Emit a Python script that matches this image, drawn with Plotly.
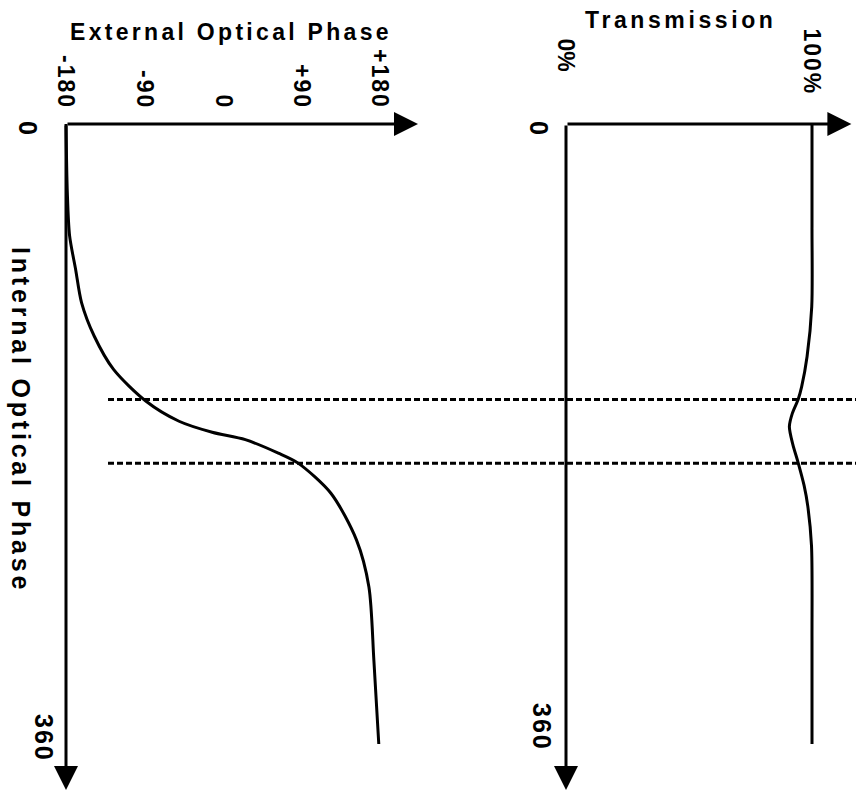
import plotly.graph_objects as go

# ---------------- data ----------------
# left panel: external optical phase (deg) vs internal optical phase (deg)
internal_phase_ext = [0, 39.6, 64.8, 84.3, 103.7, 123.1, 142.5, 161, 172.6, 179,
                      183.3, 191.1, 196.9, 214.4, 241.6, 268.8, 311.5, 360]
external_phase = [-180, -178.5, -175.9, -169, -162.2, -147.7, -125.5, -88.2, -50.4, -12.4,
                  25.6, 63.4, 86.1, 123.7, 153.1, 167.3, 173, 178.6]

# right panel: transmission (%) vs internal optical phase (deg)
internal_phase_tr = [0, 60, 106, 135, 152.5, 159.8, 168, 175.7, 186, 196.3, 210, 222, 245, 300, 360]
transmission = [100, 100, 99.9, 98.0, 95.8, 94.4, 92.0, 90.8, 92.2, 94.3, 96.8, 98.3, 99.8, 100, 100]

# dotted marker lines (internal phase)
marker_phases = [160, 197]

ext_ticks = [-180, -90, 0, 90, 180]
ext_tick_labels = ["-180", "-90", "0", "+90", "+180"]
tr_ticks = [0, 100]
tr_tick_labels = ["0%", "100%"]
internal_ticks = [0, 360]
internal_tick_labels = ["0", "360"]

# ---------------- layout helpers ----------------
W, H = 856, 793
FONT = "Liberation Sans, Arial, Helvetica, sans-serif"
EXT_END = 223.6      # arrow tip of the external-phase axis
TR_END = 116.0       # arrow tip of the transmission axis
INT_END = 386.7      # arrow tip of the internal-phase axis


def py(p):
    return 1 - p / H


def px(p):
    return p / W


def spaced(t, s):
    return f'<span style="letter-spacing:{s}px">{t}</span>'


fig = go.Figure()

fig.add_trace(go.Scatter(
    x=external_phase, y=internal_phase_ext, xaxis="x", yaxis="y",
    mode="lines", line=dict(color="black", width=3, shape="spline", smoothing=0.8),
    hoverinfo="skip", showlegend=False))

fig.add_trace(go.Scatter(
    x=transmission, y=internal_phase_tr, xaxis="x2", yaxis="y",
    mode="lines", line=dict(color="black", width=3, shape="spline", smoothing=0.8),
    hoverinfo="skip", showlegend=False))

shapes = []
for ph in marker_phases:
    shapes.append(dict(type="line", xref="paper", yref="y", x0=px(108), x1=1.0, y0=ph, y1=ph,
                       line=dict(color="black", width=3, dash="6px,3px")))

annotations = []


def arrow(xref, x, y, ax, ay):
    annotations.append(dict(xref=xref, yref="y", axref=xref, ayref="y", x=x, y=y, ax=ax, ay=ay,
                            text="", showarrow=True, arrowhead=2, arrowsize=1.6, arrowwidth=3,
                            arrowcolor="black", standoff=0, startstandoff=0))


arrow("x", -180, INT_END, -180, 0)
arrow("x", EXT_END, 0, -180, 0)
arrow("x2", 0, INT_END, 0, 0)
arrow("x2", TR_END, 0, 0, 0)

BOLD = dict(family=FONT, size=23, color="black", weight="bold")

# tick labels (rotated, like the reference)
for v, lab in zip(ext_ticks, ext_tick_labels):
    annotations.append(dict(xref="x", yref="paper", x=v, y=py(111), yanchor="bottom", xanchor="center",
                            text=spaced(lab, 2), showarrow=False, textangle=90, font=BOLD))
tr_label_bottom = {0: 73, 100: 97}
tr_label_spacing = {0: 0, 100: 2}
for v, lab in zip(tr_ticks, tr_tick_labels):
    annotations.append(dict(xref="x2", yref="paper", x=v, y=py(tr_label_bottom[v]), yanchor="bottom",
                            xanchor="center", text=spaced(lab, tr_label_spacing[v]), showarrow=False,
                            textangle=90, font=BOLD))

# internal-phase axis labels: (x position of "0", x position of "360", y shifts)
for x0_px, x360_px, shifts in ((28, 44, (-5, 6)), (539, 542, (-5, 17))):
    for v, lab, shift in zip(internal_ticks, internal_tick_labels, shifts):
        annotations.append(dict(xref="paper", yref="y", x=px(x0_px if lab == "0" else x360_px),
                                y=v, yshift=shift, xanchor="center", yanchor="middle",
                                text=spaced(lab, 2), showarrow=False, textangle=90,
                                font=dict(family=FONT, size=25, color="black", weight="bold")))

# axis titles
annotations.append(dict(xref="paper", yref="paper", x=px(231), y=py(32), xanchor="center",
                        yanchor="middle", text=spaced("External Optical Phase", 3.3), showarrow=False,
                        font=BOLD))
annotations.append(dict(xref="paper", yref="paper", x=px(680), y=py(20), xanchor="center",
                        yanchor="middle", text=spaced("Transmission", 3.6), showarrow=False,
                        font=BOLD))
annotations.append(dict(xref="paper", yref="paper", x=px(21), y=py(420), xanchor="center",
                        yanchor="middle", text=spaced("Internal Optical Phase", 3.8), showarrow=False,
                        textangle=90, font=dict(family=FONT, size=25, color="black", weight="bold")))

k_ext = 360 / 314.0
k_tr = 100 / 246.0
k_int = 360 / 620.0

axis_common = dict(showgrid=False, zeroline=False, showline=False, showticklabels=False, ticks="",
                   fixedrange=True)

fig.update_layout(
    width=W, height=H, autosize=False,
    margin=dict(l=0, r=0, t=0, b=0),
    paper_bgcolor="white", plot_bgcolor="white",
    xaxis=dict(domain=[0, 0.5], range=[-180 - 66 * k_ext, -180 + 362 * k_ext], anchor="y", **axis_common),
    xaxis2=dict(domain=[0.5, 1], range=[(428 - 566) * k_tr, (856 - 566) * k_tr], anchor="y", **axis_common),
    yaxis=dict(domain=[0, 1], range=[(793 - 124) * k_int, (0 - 124) * k_int], **axis_common),
    shapes=shapes,
    annotations=annotations,
    showlegend=False,
)

fig.write_html("out.html", config={"displayModeBar": False},
               post_script="document.body.style.margin='0';")
